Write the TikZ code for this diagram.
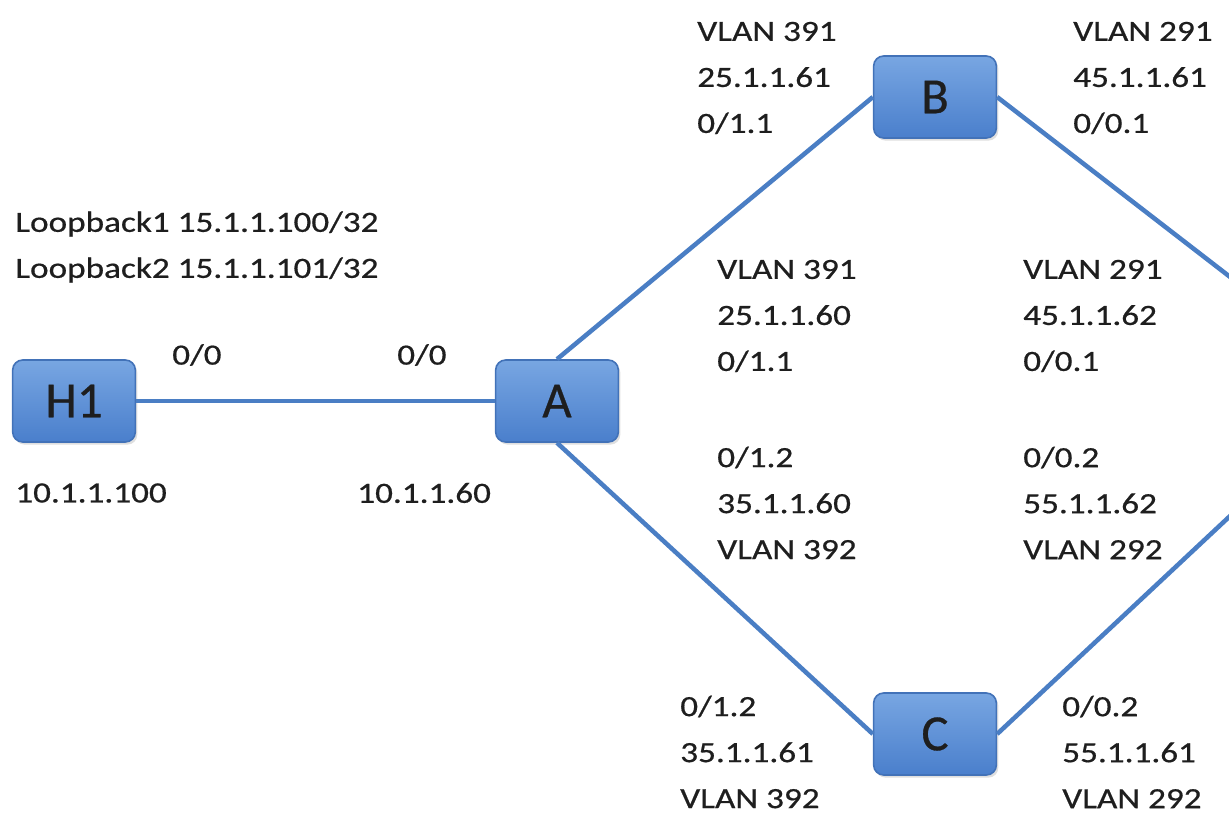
\documentclass[tikz,border=0pt]{standalone}
\usepackage{fontspec}
\setmainfont{Carlito}
\newfontfamily\lblfont[FakeStretch=1.2,FakeBold=0.6]{Carlito}
\newfontfamily\devfont[FakeBold=0.6]{Carlito}
\usetikzlibrary{shadows}
\definecolor{link}{HTML}{4A7EC4}
\definecolor{boxtop}{HTML}{78A6E2}
\definecolor{boxbot}{HTML}{4A7FCC}
\definecolor{boxedge}{HTML}{4272B8}
\definecolor{ink}{HTML}{1E1E1E}
\tikzset{
  dev/.style={draw=boxedge, line width=1.2pt, rounded corners=7.5pt,
    top color=boxtop, bottom color=boxbot,
    minimum width=92pt, minimum height=61.5pt, inner sep=0pt,
    font=\devfont\fontsize{38}{38}\selectfont, text=ink,
    drop shadow={opacity=0.25, shadow xshift=1.5pt, shadow yshift=-2pt}},
  wire/.style={draw=link, line width=3.4pt},
  lab/.style={text=ink, font=\lblfont\fontsize{22}{34.5}\selectfont,
    align=left, anchor=west, inner sep=0pt},
}

\begin{document}
\begin{tikzpicture}[x=0.75pt,y=-0.75pt]
  \useasboundingbox (0,0) rectangle (1229,815);
  \clip (0,0) rectangle (1229,815);

  % devices
  \node[dev] (H1) at (74,401) {H1};
  \node[dev] (A) at (557,401) {A};
  \node[dev] (B) at (935,97) {B};
  \node[dev] (C) at (935,734) {C};
  \coordinate (D) at (1370,385); % off the right edge

  \draw[wire] (H1) -- (A);
  \draw[wire] (A.north) -- (B.west);
  \draw[wire] (A.south) -- (C.west);
  \draw[wire] (B.east) -- (D);
  \draw[wire] (C.east) -- (D);

  % interface labels
  \node[lab] (lo) at (15,247) {Loopback1 15.1.1.100/32\\Loopback2 15.1.1.101/32};
  \node[lab] (h1if) at (172,355) {0/0};
  \node[lab] (aif) at (397,355) {0/0};
  \node[lab] (h1ip) at (15,493) {10.1.1.100};
  \node[lab] (aip) at (357,493) {10.1.1.60};

  \node[lab] (bl) at (697,78) {VLAN 391\\25.1.1.61\\0/1.1};
  \node[lab] (br) at (1073,78) {VLAN 291\\45.1.1.61\\0/0.1};
  \node[lab] (ab) at (717,316) {VLAN 391\\25.1.1.60\\0/1.1};
  \node[lab] (ac) at (717,503) {0/1.2\\35.1.1.60\\VLAN 392};
  \node[lab] (db) at (1023,316) {VLAN 291\\45.1.1.62\\0/0.1};
  \node[lab] (dc) at (1023,503) {0/0.2\\55.1.1.62\\VLAN 292};
  \node[lab] (cl) at (680,752) {0/1.2\\35.1.1.61\\VLAN 392};
  \node[lab] (cr) at (1062,752) {0/0.2\\55.1.1.61\\VLAN 292};
\end{tikzpicture}
\end{document}
